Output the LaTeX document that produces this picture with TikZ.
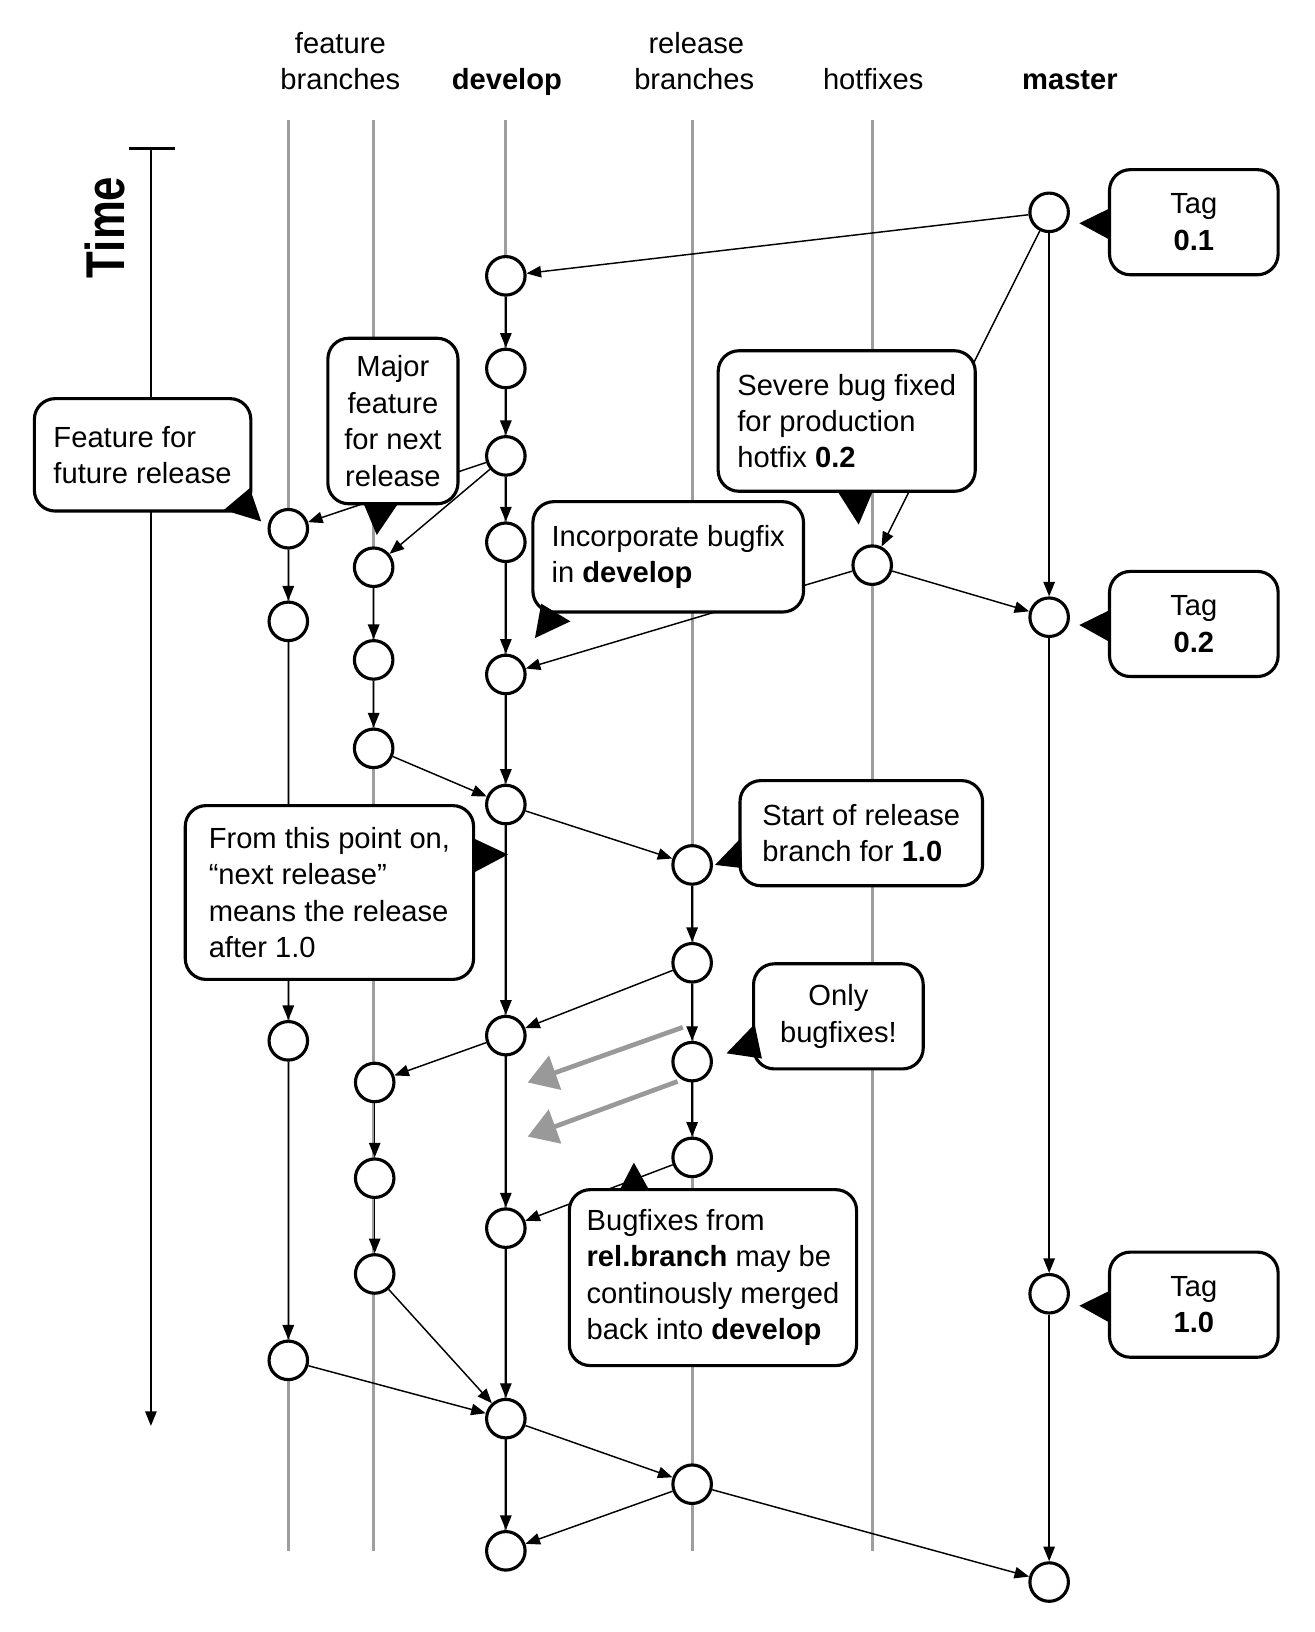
\documentclass[tikz,border=0pt]{standalone}
\usepackage{fontspec}
\setmainfont{Liberation Sans}
\usetikzlibrary{arrows.meta,calc}
\definecolor{branchgray}{gray}{0.62}
\definecolor{arrowgray}{gray}{0.6}
\begin{document}
\begin{tikzpicture}[x=1pt,y=-1pt,
  font=\fontsize{28}{35}\selectfont,
  branchline/.style={draw=branchgray, line width=3pt},
  commit/.style={circle, draw, line width=3pt, fill=white, minimum size=37pt, inner sep=0pt},
  flow/.style={draw, line width=1.4pt, -{Triangle[length=14pt,width=11pt]}},
  callout/.style={draw, line width=3pt, fill=white, rounded corners=20pt, inner sep=0pt, align=center},
  tail/.style={fill=black},
  backmerge/.style={draw=arrowgray, line width=4.5pt, -{Triangle[length=28pt,width=34pt]}},
  header/.style={anchor=base},
]
\useasboundingbox (0,0) rectangle (1263,1568);

% ---------- headers
\node[header] (hfa) at (327,51) {feature};
\node[header] (hfb) at (327,86) {branches};
\node[header] (hdev) at (487,86) {\textbf{develop}};
\node[header] (hra) at (669,51) {release};
\node[header] (hrb) at (667,86) {branches};
\node[header] (hhot) at (839,86) {hotfixes};
\node[header] (hmas) at (1028,86) {\textbf{master}};

% ---------- branch lines
\foreach \n/\x in {fa/277, fb/359, dv/486, rl/665, hf/838}{
  \coordinate (\n top) at (\x,115);
  \coordinate (\n bot) at (\x,1490);
  \draw[branchline] (\n top) -- (\n bot);
}

% ---------- time axis
\coordinate (ttop) at (145,143);
\coordinate (tbot) at (145,1370);
\coordinate (tickl) at (124,143);
\coordinate (tickr) at (168,143);
\draw[line width=1.4pt, -{Triangle[length=14pt,width=11pt]}] (ttop) -- (tbot);
\draw[line width=3pt] (tickl) -- (tickr);
\node[rotate=90] (timelbl) at (101,218.5) {\scalebox{1}[1.25]{\fontsize{42}{42}\selectfont\bfseries Time}};

% ---------- commits
% develop
\node[commit] (d1) at (486,265) {};
\node[commit] (d2) at (486,354) {};
\node[commit] (d3) at (486,438) {};
\node[commit] (d4) at (486,521) {};
\node[commit] (d5) at (486,648) {};
\node[commit] (d6) at (486,773) {};
\node[commit] (d7) at (486,995) {};
\node[commit] (d8) at (486,1180) {};
\node[commit] (d9) at (486,1363) {};
\node[commit] (d10) at (486,1490) {};
% feature 1
\node[commit] (fa1) at (277,508) {};
\node[commit] (fa2) at (277,597) {};
\node[commit] (fa3) at (277,1000) {};
\node[commit] (fa4) at (277,1307) {};
% feature 2
\node[commit] (fb1) at (359,545) {};
\node[commit] (fb2) at (359,634) {};
\node[commit] (fb3) at (359,719) {};
\node[commit] (fb4) at (360,1040) {};
\node[commit] (fb5) at (360,1132) {};
\node[commit] (fb6) at (360,1224) {};
% release
\node[commit] (r1) at (665,831) {};
\node[commit] (r2) at (665,925) {};
\node[commit] (r3) at (665,1020) {};
\node[commit] (r4) at (665,1112) {};
\node[commit] (r5) at (665,1426) {};
% hotfix
\node[commit] (h1) at (838,543) {};
% master
\node[commit] (m1) at (1008,204) {};
\node[commit] (m2) at (1008,593) {};
\node[commit] (m3) at (1008,1243) {};
\node[commit] (m4) at (1008,1520) {};

% ---------- connectors
\draw[flow] (d1) -- (d2);
\draw[flow] (d2) -- (d3);
\draw[flow] (d3) -- (d4);
\draw[flow] (d4) -- (d5);
\draw[flow] (d5) -- (d6);
\draw[flow] (d6) -- (d7);
\draw[flow] (d7) -- (d8);
\draw[flow] (d8) -- (d9);
\draw[flow] (d9) -- (d10);
\draw[flow] (m1) -- (d1);
\draw[flow] (m1) -- (h1);
\draw[flow] (m1) -- (m2);
\draw[flow] (m2) -- (m3);
\draw[flow] (m3) -- (m4);
\draw[flow] (d3) -- (fa1);
\draw[flow] (d3) -- (fb1);
\draw[flow] (fa1) -- (fa2);
\draw[flow] (fa2) -- (fa3);
\draw[flow] (fa3) -- (fa4);
\draw[flow] (fb1) -- (fb2);
\draw[flow] (fb2) -- (fb3);
\draw[flow] (fb4) -- (fb5);
\draw[flow] (fb5) -- (fb6);
\draw[flow] (h1) -- (m2);
\draw[flow] (h1) -- (d5);
\draw[flow] (fb3) -- (d6);
\draw[flow] (d6) -- (r1);
\draw[flow] (r1) -- (r2);
\draw[flow] (r2) -- (r3);
\draw[flow] (r3) -- (r4);
\draw[flow] (r2) -- (d7);
\draw[flow] (d7) -- (fb4);
\draw[flow] (r4) -- (d8);
\draw[flow] (fb6) -- (d9);
\draw[flow] (fa4) -- (d9);
\draw[flow] (d9) -- (r5);
\draw[flow] (r5) -- (d10);
\draw[flow] (r5) -- (m4);

% gray back-merge arrows
\coordinate (g1s) at (656,987);
\coordinate (g1e) at (507,1040);
\coordinate (g2s) at (651,1039);
\coordinate (g2e) at (507,1092);
\draw[backmerge] (g1s) -- (g1e);
\draw[backmerge] (g2s) -- (g2e);

% ---------- callouts
\node[callout, minimum width=162pt, minimum height=101pt] (tag1) at (1147,213.5) {Tag\\\textbf{0.1}};
\fill[tail] (1066.5,200) -- (1037,214.5) -- (1066.5,230.5) -- cycle;
\node[callout, minimum width=162pt, minimum height=101pt] (tag2) at (1147,599.5) {Tag\\\textbf{0.2}};
\fill[tail] (1066.5,586) -- (1037,600.5) -- (1066.5,617) -- cycle;
\node[callout, minimum width=162pt, minimum height=101pt] (tag3) at (1147,1253.5) {Tag\\\textbf{1.0}};
\fill[tail] (1066.5,1240) -- (1037,1254.5) -- (1066.5,1271) -- cycle;

\node[callout, align=left, minimum width=208pt, minimum height=108pt] (future) at (137,437) {Feature for\\future release};
\fill[tail] (240,469) -- (251,501) -- (215,490) -- cycle;

\node[callout, minimum width=125pt, minimum height=159pt] (major) at (377.5,404.5) {Major\\feature\\for next\\release};
\fill[tail] (349,483) -- (362,514) -- (383,483) -- cycle;

\node[callout, align=left, minimum width=247pt, minimum height=135pt] (severe) at (813.5,404.5) {Severe bug fixed\\for production\\hotfix \textbf{0.2}};
\fill[tail] (804,471) -- (825,504) -- (839,471) -- cycle;

\node[callout, align=left, minimum width=260pt, minimum height=106pt] (incorp) at (642,535) {Incorporate bugfix\\in \textbf{develop}};
\fill[tail] (520,580) -- (548,597) -- (514,613) -- cycle;

\node[callout, align=left, minimum width=233pt, minimum height=101pt] (startrel) at (827.5,800.5) {Start of release\\branch for \textbf{1.0}};
\fill[tail] (712,805) -- (687,831) -- (713,834) -- cycle;

\node[callout, align=left, minimum width=277pt, minimum height=167pt] (frompt) at (316.5,857.5) {From this point on,\\“next release”\\means the release\\after 1.0};
\fill[tail] (454,805) -- (488,821) -- (454,839) -- cycle;

\node[callout, minimum width=163pt, minimum height=101pt] (onlybf) at (805.5,976.5) {Only\\bugfixes!};
\fill[tail] (725,984) -- (698,1012) -- (732,1017) -- cycle;

\node[callout, align=left, minimum width=276pt, minimum height=169pt] (bugfx) at (685,1227.5) {Bugfixes from\\\textbf{rel.branch} may be\\continously merged\\back into \textbf{develop}};
\fill[tail] (595,1144) -- (609,1117) -- (624,1144) -- cycle;

\end{tikzpicture}
\end{document}
